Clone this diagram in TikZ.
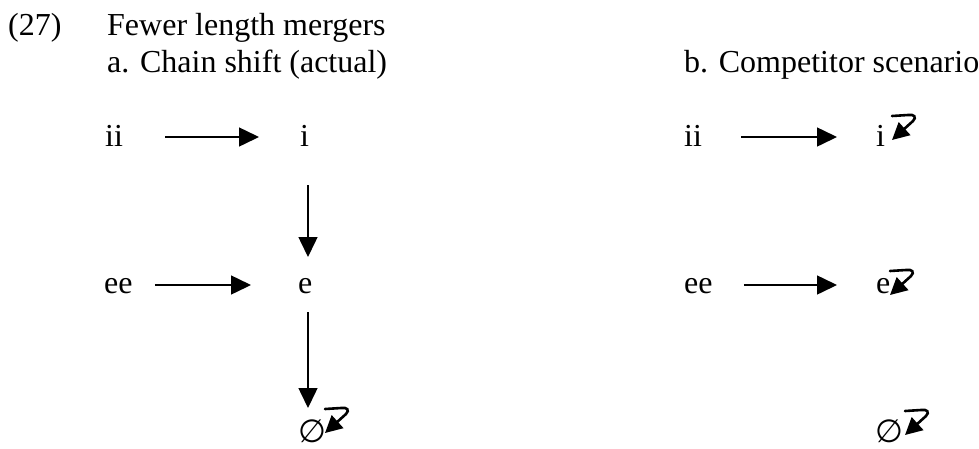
\documentclass[tikz,border=0pt]{standalone}
\usepackage{fontspec}
\setmainfont{Liberation Serif}
\newfontfamily\symfont{DejaVu Sans}
\usetikzlibrary{arrows.meta,calc}
\begin{document}
\begin{tikzpicture}[x=1pt,y=-1pt,
  lbl/.style={anchor=base west,inner sep=0pt,font=\fontsize{32}{38}\selectfont},
  nul/.style={anchor=base west,inner sep=0pt,font=\fontsize{32}{36}\symfont},
  arr/.style={line width=1.5pt,-{Triangle[length=20pt,width=19pt]}},
  bomb/.style={line width=2.6pt,line cap=round,-{Triangle[length=17pt,width=17pt]}}]
\useasboundingbox (0,0) rectangle (979,448);
% headings
\node[lbl] (num) at (8,35) {(27)};
\node[lbl] (title) at (107,35) {Fewer length mergers};
\node[lbl] (capA) at (107,72) {a. Chain shift (actual)};
\node[lbl] (capB) at (684,72) {b. Competitor scenario};
% panel a
\node[lbl] (iiA) at (105,146) {ii};
\node[lbl] (iA) at (300,146) {i};
\node[lbl] (eeA) at (104,293) {ee};
\node[lbl] (eA) at (298,293) {e};
\node[nul] (nulA) at (298,442) {∅};
% panel b
\node[lbl] (iiB) at (684,146) {ii};
\node[lbl] (iB) at (876,146) {i};
\node[lbl] (eeB) at (684,293) {ee};
\node[lbl] (eB) at (876,293) {e};
\node[nul] (nulB) at (875,442) {∅};
% arrows panel a
\draw[arr] ($(iiA.base east)+(42,-9)$) -- ($(iA.base west)+(-41,-9)$);
\draw[arr] ($(eeA.base east)+(22,-8)$) -- ($(eA.base west)+(-47,-8)$);
\draw[arr] ($(iA.base west)+(8,39)$) -- ($(eA.base west)+(10,-36)$);
\draw[arr] ($(eA.base west)+(10,19)$) -- ($(nulA.base west)+(10,-34)$);
% arrows panel b
\draw[arr] ($(iiB.base east)+(39,-9)$) -- ($(iB.base west)+(-39,-9)$);
\draw[arr] ($(eeB.base east)+(31,-8)$) -- ($(eB.base west)+(-39,-8)$);
% bomb marks
\coordinate (bA) at (325,409);
\coordinate (bI) at (892,116);
\coordinate (bE) at (890,271);
\coordinate (bN) at (905,411);
\foreach \c in {bA,bI,bE,bN}{
  \begin{scope}[shift={(\c)}]
    \draw[bomb] (0,0) -- (16,-1) .. controls (22,-2) and (25,1) .. (21,5) -- (0,24);
  \end{scope}
}
\end{tikzpicture}
\end{document}
